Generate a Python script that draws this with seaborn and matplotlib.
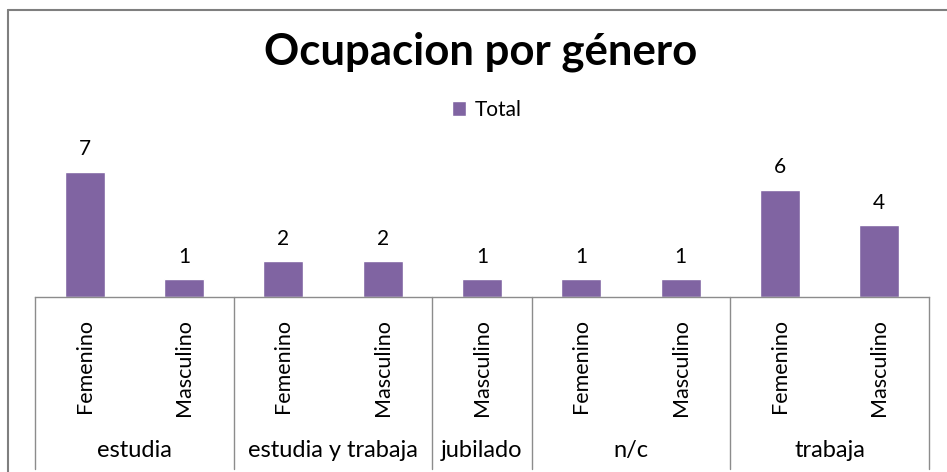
import pandas as pd
import matplotlib.pyplot as plt
import seaborn as sns
from matplotlib.transforms import blended_transform_factory
from matplotlib.lines import Line2D

# datos de la tabla dinamica
ocupacion = ["estudia", "estudia", "estudia y trabaja", "estudia y trabaja", "jubilado",
             "n/c", "n/c", "trabaja", "trabaja"]
genero = ["Femenino", "Masculino", "Femenino", "Masculino", "Masculino",
          "Femenino", "Masculino", "Femenino", "Masculino"]
total = [7, 1, 2, 2, 1, 1, 1, 6, 4]

df = pd.DataFrame({"ocupacion": ocupacion, "genero": genero, "Total": total})
df["slot"] = df["ocupacion"] + " | " + df["genero"]
df["serie"] = "Total"

sns.set_theme(style="white")
plt.rcParams["font.family"] = ["Lato", "DejaVu Sans"]
plt.rcParams["text.color"] = "black"
plt.rcParams["xtick.color"] = "black"

fig = plt.figure(figsize=(9.47, 4.72), dpi=100)
ax = fig.add_axes([0.037, 0.371, 0.944, 0.303])

sns.barplot(data=df, x="slot", y="Total", hue="serie", palette=["#8064A2"],
            width=0.4, saturation=1, ax=ax)

ax.bar_label(ax.containers[0], padding=9, fontsize=15, color="black")

ax.set_ylim(0, 8)
ax.set_xlim(-0.5, len(df) - 0.5)
ax.set_yticks([])
ax.set_xlabel("")
ax.set_ylabel("")
ax.set_xticks(range(len(df)))
ax.set_xticklabels(genero, rotation=90, va="top", ha="center", fontsize=15.5, color="black")
ax.tick_params(axis="x", length=0, pad=16)
for s in ["left", "right", "top"]:
    ax.spines[s].set_visible(False)
ax.spines["bottom"].set_color("#8c8c8c")
ax.spines["bottom"].set_linewidth(1)

# ejes de categorias agrupados (estilo Excel)
trans = blended_transform_factory(ax.transData, ax.transAxes)
bounds = [-0.5]
for i in range(1, len(ocupacion)):
    if ocupacion[i] != ocupacion[i - 1]:
        bounds.append(i - 0.5)
bounds.append(len(ocupacion) - 0.5)
for b in bounds:
    ax.add_line(Line2D([b, b], [0, -1.2], transform=trans, color="#8c8c8c",
                       lw=1, clip_on=False))
groups = list(dict.fromkeys(ocupacion))
for g, lo, hi in zip(groups, bounds[:-1], bounds[1:]):
    ax.text((lo + hi) / 2, -1.075, g, transform=trans, ha="center", va="center",
            fontsize=17, color="black")

sns.move_legend(ax, "center", bbox_to_anchor=(0.514, 0.767), bbox_transform=fig.transFigure,
                frameon=False, title=None, fontsize=15, handlelength=0.7,
                handleheight=0.7, handletextpad=0.4, labelcolor="black")

fig.text(0.508, 0.89, "Ocupacion por género", ha="center", va="center",
         fontsize=31.5, fontweight="bold", color="black")

# marco del grafico
fig.add_artist(Line2D([8 / 947, 8 / 947], [0, 1 - 10 / 472], color="#7f7f7f", lw=1.5))
fig.add_artist(Line2D([8 / 947, 1], [1 - 10 / 472, 1 - 10 / 472], color="#7f7f7f", lw=1.5))

plt.savefig("out.png", dpi=100)
